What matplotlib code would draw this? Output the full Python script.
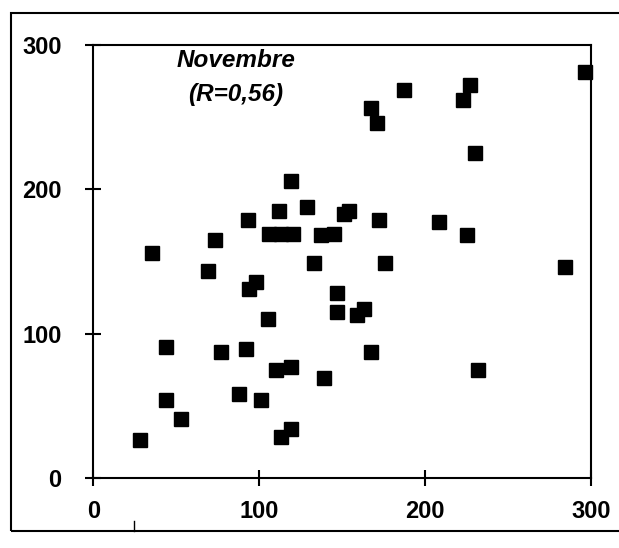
import matplotlib.pyplot as plt
from matplotlib.patches import Rectangle

# values
x_vals = [28, 35, 44, 44, 53, 69, 73, 77, 88, 92, 93, 94, 98, 101, 105,
          106, 113, 120, 110, 112, 113, 119, 119, 119, 129, 133, 137, 139,
          145, 147, 147, 151, 154, 159, 163, 167, 167, 171, 172, 176, 187,
          208, 223, 225, 227, 230, 232, 284, 296]
y_vals = [26, 156, 91, 54, 41, 143, 165, 87, 58, 89, 179, 131, 136, 54, 110,
          169, 169, 169, 75, 185, 28, 206, 77, 34, 188, 149, 168, 69,
          169, 128, 115, 183, 185, 113, 117, 87, 256, 246, 179, 149, 269,
          177, 262, 168, 272, 225, 75, 146, 281]

ticks = [0, 100, 200, 300]
title_lines = ["Novembre", "(R=0,56)"]

plt.rcParams['font.family'] = ['Liberation Sans', 'DejaVu Sans']

fig = plt.figure(figsize=(6.19, 5.48), dpi=100)
ax = fig.add_axes([0.151, 0.128, 0.804, 0.79])  # llx, lly, w, h

ax.plot(x_vals, y_vals, 's', color='black', markersize=9.8, clip_on=False)

ax.set_xlim(0, 300)
ax.set_ylim(0, 300)
ax.set_xticks(ticks)
ax.set_yticks(ticks)
ax.tick_params(direction='inout', length=12, width=1.5, labelsize=17)
ax.tick_params(axis='y', pad=17)
ax.tick_params(axis='x', pad=10)
for lab in ax.get_xticklabels() + ax.get_yticklabels():
    lab.set_fontweight('bold')
for sp in ax.spines.values():
    sp.set_linewidth(1.5)

ax.text(0.286, 0.963, title_lines[0], transform=ax.transAxes, ha='center',
        va='center', fontsize=17.5, fontweight='bold', style='italic')
ax.text(0.286, 0.885, title_lines[1], transform=ax.transAxes, ha='center',
        va='center', fontsize=17.5, fontweight='bold', style='italic')

# outer frame of the scanned chart
fig.patches.append(Rectangle((0.018, 0.031), 1.1, 0.945, transform=fig.transFigure,
                             fill=False, edgecolor='black', linewidth=1.5))
fig.add_artist(plt.Line2D([0.217, 0.217], [0.031, 0.049], transform=fig.transFigure,
                          color='black', linewidth=1))

fig.savefig('out.png', dpi=100)
